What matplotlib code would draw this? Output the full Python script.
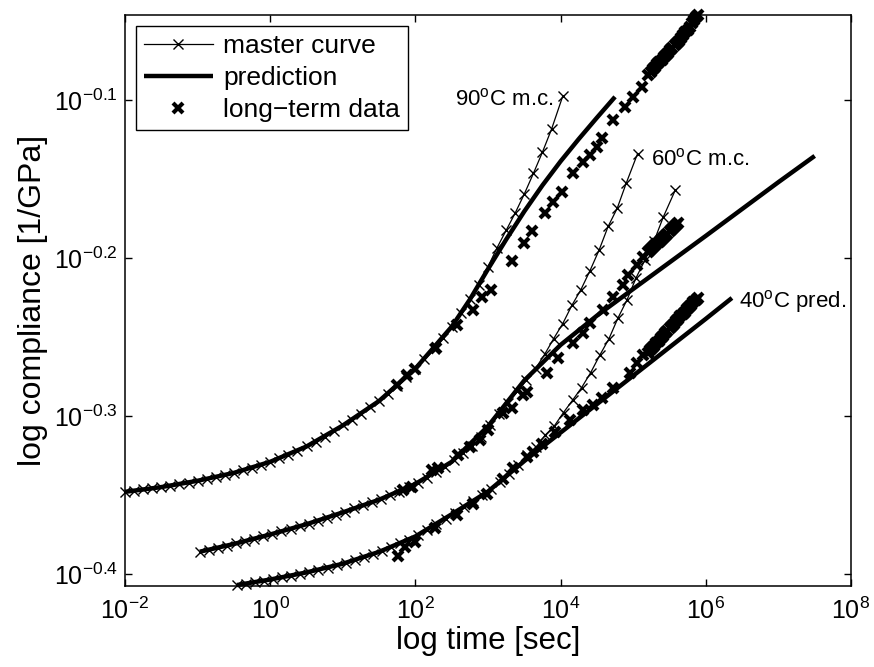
import numpy as np
import matplotlib.pyplot as plt

plt.rcParams['font.family'] = ['Liberation Sans', 'DejaVu Sans']
plt.rcParams['mathtext.fontset'] = 'custom'
plt.rcParams['mathtext.rm'] = 'Liberation Sans'
plt.rcParams['mathtext.it'] = 'Liberation Sans:italic'
plt.rcParams['mathtext.default'] = 'regular'

# all values are log10(time [s]) and log10(compliance [1/GPa])
m90_logt = [-2.000, -1.875, -1.750, -1.625, -1.500, -1.375, -1.250, -1.125, -1.000, -0.875,
            -0.750, -0.625, -0.500, -0.375, -0.250, -0.125, 0.000, 0.125, 0.250, 0.375,
            0.500, 0.625, 0.750, 0.875, 1.000, 1.125, 1.250, 1.375, 1.500, 1.625,
            1.750, 1.875, 2.000, 2.125, 2.250, 2.375, 2.500, 2.625, 2.750, 2.875,
            3.000, 3.125, 3.250, 3.375, 3.500, 3.625, 3.750, 3.875, 4.030]
m90_logj = [-0.3480, -0.3473, -0.3465, -0.3458, -0.3450, -0.3441, -0.3431, -0.3421, -0.3410, -0.3399,
            -0.3387, -0.3374, -0.3360, -0.3344, -0.3328, -0.3310, -0.3290, -0.3268, -0.3245, -0.3220,
            -0.3193, -0.3162, -0.3130, -0.3096, -0.3060, -0.3023, -0.2985, -0.2945, -0.2905, -0.2858,
            -0.2808, -0.2755, -0.2700, -0.2638, -0.2573, -0.2505, -0.2435, -0.2350, -0.2262, -0.2170,
            -0.2055, -0.1935, -0.1825, -0.1715, -0.1595, -0.1465, -0.1330, -0.1185, -0.0975]

m60_logt = [-0.970, -0.845, -0.720, -0.595, -0.470, -0.345, -0.220, -0.095, 0.030, 0.155,
            0.280, 0.405, 0.530, 0.655, 0.780, 0.905, 1.030, 1.155, 1.280, 1.405,
            1.530, 1.655, 1.780, 1.905, 2.030, 2.155, 2.280, 2.405, 2.530, 2.655,
            2.780, 2.905, 3.030, 3.155, 3.280, 3.405, 3.530, 3.655, 3.780, 3.905,
            4.030, 4.155, 4.280, 4.405, 4.530, 4.655, 4.780, 4.905, 5.060]
m60_logj = [-0.3859, -0.3846, -0.3833, -0.3820, -0.3806, -0.3792, -0.3777, -0.3762, -0.3746, -0.3730,
            -0.3714, -0.3698, -0.3681, -0.3663, -0.3645, -0.3625, -0.3605, -0.3585, -0.3565, -0.3545,
            -0.3524, -0.3502, -0.3478, -0.3452, -0.3423, -0.3391, -0.3357, -0.3320, -0.3280, -0.3236,
            -0.3188, -0.3135, -0.3054, -0.2985, -0.2915, -0.2843, -0.2770, -0.2700, -0.2610, -0.2510,
            -0.2415, -0.2300, -0.2200, -0.2080, -0.1950, -0.1800, -0.1685, -0.1525, -0.1340]

m40_logt = [-0.460, -0.335, -0.210, -0.085, 0.040, 0.165, 0.290, 0.415, 0.540, 0.665,
            0.790, 0.915, 1.040, 1.165, 1.290, 1.415, 1.540, 1.665, 1.790, 1.915,
            2.040, 2.165, 2.290, 2.415, 2.540, 2.665, 2.790, 2.915, 3.040, 3.165,
            3.290, 3.415, 3.540, 3.665, 3.790, 3.915, 4.040, 4.165, 4.290, 4.415,
            4.540, 4.665, 4.790, 4.915, 5.040, 5.165, 5.290, 5.415, 5.580]
m40_logj = [-0.4070, -0.4061, -0.4051, -0.4042, -0.4032, -0.4021, -0.4010, -0.3998, -0.3986, -0.3973,
            -0.3960, -0.3945, -0.3929, -0.3912, -0.3894, -0.3874, -0.3853, -0.3830, -0.3807, -0.3782,
            -0.3753, -0.3720, -0.3686, -0.3650, -0.3613, -0.3576, -0.3539, -0.3502, -0.3463, -0.3420,
            -0.3370, -0.3310, -0.3250, -0.3195, -0.3120, -0.3062, -0.2978, -0.2900, -0.2820, -0.2725,
            -0.2615, -0.2512, -0.2380, -0.2265, -0.2125, -0.2010, -0.1890, -0.1740, -0.1570]

p90_logt = [-2.0, -1.5, -1.0, -0.5, 0.0, 0.5, 1.0, 1.5, 2.0, 2.5, 2.75, 3.0, 3.25, 3.5, 3.75, 4.0, 4.25, 4.5, 4.75]
p90_logj = [-0.348, -0.345, -0.341, -0.336, -0.329, -0.3193, -0.306, -0.2905, -0.270, -0.2435, -0.2263,
            -0.2070, -0.1883, -0.1705, -0.1540, -0.1388, -0.1247, -0.1112, -0.0980]

p60_logt = [-0.97, -0.5, 0.0, 0.5, 1.0, 1.5, 2.0, 2.5, 3.0, 3.5, 4.0, 4.5, 5.0, 5.5, 6.0, 6.5, 7.0, 7.5]
p60_logj = [-0.3859, -0.381, -0.375, -0.3685, -0.361, -0.353, -0.343, -0.329, -0.3065, -0.2775,
            -0.255, -0.2365, -0.2196, -0.2028, -0.186, -0.169, -0.152, -0.1354]

p40_logt = [-0.46, 0.0, 0.5, 1.0, 1.5, 2.0, 2.5, 3.0, 3.5, 4.0, 4.5, 5.0, 5.5, 6.0, 6.36]
p40_logj = [-0.407, -0.4035, -0.399, -0.3935, -0.386, -0.3762, -0.3622, -0.3478, -0.3285, -0.3105,
            -0.2925, -0.2745, -0.2565, -0.2385, -0.2253]

d90_logt = [1.75, 1.88, 1.99, 2.29, 2.57, 2.79, 2.92, 3.04, 3.33, 3.49, 3.60, 3.79, 3.90, 4.02,
            4.17, 4.31, 4.40, 4.50, 4.57, 4.72, 4.89, 5.00, 5.12, 5.20, 5.24, 5.27, 5.30, 5.33,
            5.36, 5.39, 5.42, 5.45, 5.48, 5.51, 5.54, 5.57, 5.60, 5.63, 5.66, 5.69, 5.72, 5.75,
            5.78, 5.81, 5.84, 5.87, 5.89]
d90_logj = [-0.2805, -0.2740, -0.2700, -0.2570, -0.2425, -0.2330, -0.2250, -0.2200, -0.2020, -0.1905,
            -0.1830, -0.1715, -0.1645, -0.1580, -0.1460, -0.1390, -0.1350, -0.1300, -0.1240, -0.1127,
            -0.1044, -0.0980, -0.0920, -0.0840, -0.0820, -0.0805, -0.0790, -0.0775, -0.0760, -0.0745,
            -0.0730, -0.0715, -0.0700, -0.0685, -0.0670, -0.0655, -0.0640, -0.0625, -0.0605, -0.0590,
            -0.0570, -0.0555, -0.0535, -0.0515, -0.0495, -0.0475, -0.0460]

d60_logt = [1.83, 1.95, 2.23, 2.31, 2.59, 2.75, 2.89, 3.00, 3.21, 3.33, 3.48, 3.54, 3.81, 3.96,
            4.17, 4.31, 4.40, 4.58, 4.72, 4.86, 4.93, 5.05, 5.14, 5.20, 5.23, 5.26, 5.29, 5.32,
            5.35, 5.38, 5.41, 5.44, 5.47, 5.50, 5.53, 5.56, 5.59, 5.62]
d60_logj = [-0.3468, -0.3450, -0.3342, -0.3329, -0.3247, -0.3196, -0.3152, -0.3089, -0.2981, -0.2950,
            -0.2870, -0.2845, -0.2728, -0.2633, -0.2538, -0.2475, -0.2411, -0.2329, -0.2247, -0.2171,
            -0.2110, -0.2044, -0.1994, -0.1965, -0.1950, -0.1937, -0.1924, -0.1910, -0.1897, -0.1884,
            -0.1871, -0.1858, -0.1845, -0.1832, -0.1819, -0.1806, -0.1793, -0.1780]

d40_logt = [1.76, 1.86, 2.00, 2.27, 2.57, 2.79, 2.99, 3.21, 3.35, 3.54, 3.62, 3.74, 3.92, 4.13,
            4.31, 4.45, 4.57, 4.72, 4.96, 5.05, 5.14, 5.20, 5.23, 5.26, 5.29, 5.32, 5.35, 5.38,
            5.41, 5.44, 5.47, 5.50, 5.53, 5.56, 5.59, 5.62, 5.65, 5.68, 5.71, 5.74, 5.77, 5.80,
            5.83, 5.86, 5.89]
d40_logj = [-0.3888, -0.3832, -0.3800, -0.3712, -0.3628, -0.3557, -0.3492, -0.3400, -0.3330, -0.3262,
            -0.3225, -0.3180, -0.3100, -0.3025, -0.2962, -0.2930, -0.2886, -0.2823, -0.2728, -0.2665,
            -0.2614, -0.2600, -0.2585, -0.2569, -0.2554, -0.2538, -0.2523, -0.2507, -0.2492, -0.2477,
            -0.2461, -0.2446, -0.2430, -0.2415, -0.2400, -0.2385, -0.2370, -0.2355, -0.2340, -0.2325,
            -0.2310, -0.2295, -0.2280, -0.2266, -0.2253]

xtick_exp = [-2, 0, 2, 4, 6, 8]
ytick_exp = [-0.4, -0.3, -0.2, -0.1]


def p10(v):
    return np.power(10.0, v)


fig = plt.figure(figsize=(8.74, 6.67), dpi=100)
ax = fig.add_axes([125 / 874, 81 / 667, 726 / 874, 571 / 667])

pred_style = dict(color='black', lw=3.2, solid_capstyle='butt', clip_on=False)
mc_style = dict(color='black', lw=0.9, marker='x', ms=7, mew=1.0, clip_on=False)
data_style = dict(color='black', ls='none', marker='x', ms=6.5, mew=3.0, clip_on=False)

h_pred, = ax.plot(p10(p90_logt), p10(p90_logj), **pred_style)
ax.plot(p10(p60_logt), p10(p60_logj), **pred_style)
ax.plot(p10(p40_logt), p10(p40_logj), **pred_style)

h_mc, = ax.plot(p10(m90_logt), p10(m90_logj), **mc_style)
ax.plot(p10(m60_logt), p10(m60_logj), **mc_style)
ax.plot(p10(m40_logt), p10(m40_logj), **mc_style)

h_data, = ax.plot(p10(d90_logt), p10(d90_logj), **data_style)
ax.plot(p10(d60_logt), p10(d60_logj), **data_style)
ax.plot(p10(d40_logt), p10(d40_logj), **data_style)

ax.set_xscale('log')
ax.set_yscale('log')
ax.set_xlim(1e-2, 1e8)
ax.set_ylim(p10(-0.4076), p10(-0.0462))
ax.minorticks_off()
ax.set_xticks(p10(xtick_exp), ['$10^{%d}$' % e for e in xtick_exp])
ax.set_yticks(p10(ytick_exp), ['$10^{%.1f}$' % e for e in ytick_exp])
ax.tick_params(which='both', direction='in', top=True, right=True, length=5, width=1.0)
ax.tick_params(axis='x', labelsize=18, pad=8)
ax.tick_params(axis='y', labelsize=18, pad=5)
for s in ax.spines.values():
    s.set_linewidth(1.1)

ax.set_xlabel('log time [sec]', fontsize=22.5, labelpad=2)
ax.set_ylabel('log compliance [1/GPa]', fontsize=23, labelpad=4)

ax.text(p10(2.545), p10(-0.0994), '90$^{o}$C m.c.', fontsize=16, ha='left', va='center')
ax.text(p10(5.245), p10(-0.1373), '60$^{o}$C m.c.', fontsize=16, ha='left', va='center')
ax.text(p10(6.457), p10(-0.2278), '40$^{o}$C pred.', fontsize=16, ha='left', va='center')

leg = ax.legend([h_mc, h_pred, h_data], ['master curve', 'prediction', 'long\u2212term data'],
                loc='upper left', bbox_to_anchor=(0.0152, 0.9807), borderaxespad=0,
                fontsize=19, handlelength=2.6, handletextpad=0.4, labelspacing=0.3,
                borderpad=0.3, fancybox=False, framealpha=1)
leg.get_frame().set_edgecolor('black')
leg.get_frame().set_linewidth(1.0)

fig.savefig('out.png', dpi=100)
